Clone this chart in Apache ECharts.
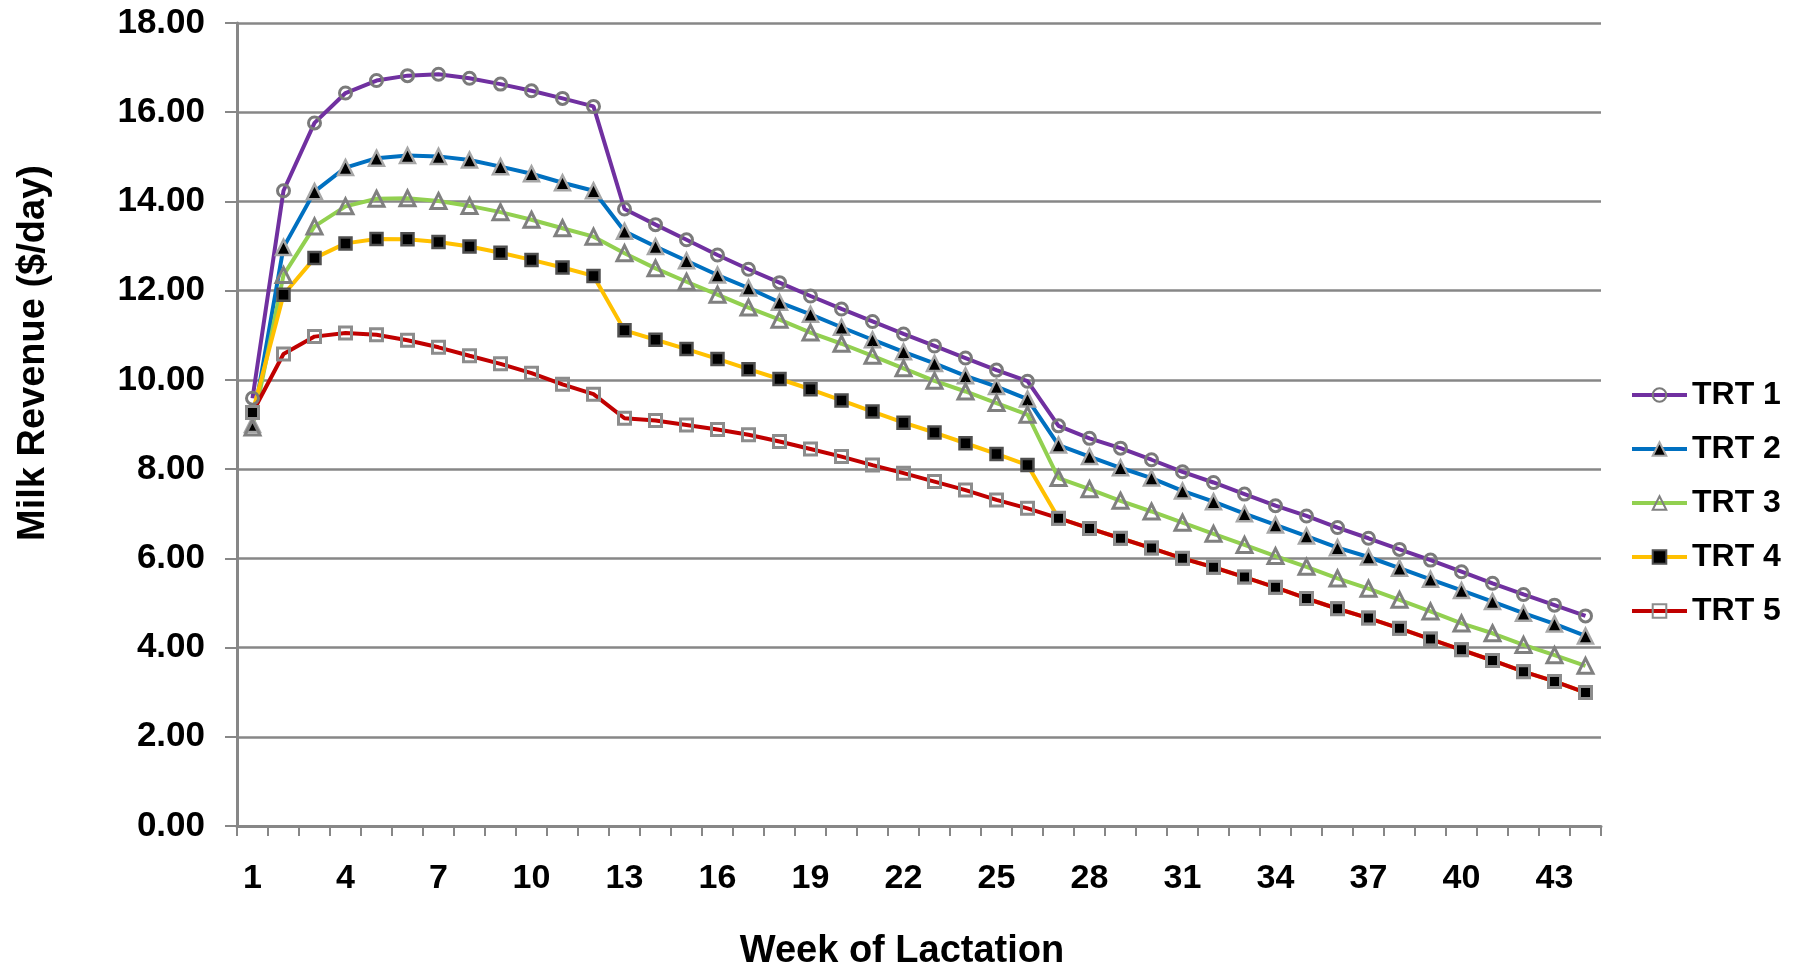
<!DOCTYPE html>
<html>
<head>
<meta charset="utf-8">
<script src="https://cdn.jsdelivr.net/npm/echarts@6/dist/echarts.min.js"></script>
<style>
  html, body { margin: 0; padding: 0; background: #ffffff; }
  #chart { width: 1797px; height: 971px; }
</style>
</head>
<body>
<div id="chart"></div>
<script>
// Week of lactation (category axis)
const weeks = ['1','2','3','4','5','6','7','8','9','10','11','12','13','14','15','16','17','18','19','20','21','22',
               '23','24','25','26','27','28','29','30','31','32','33','34','35','36','37','38','39','40','41','42','43','44'];

// Milk revenue ($/day) per treatment
const trt1 = [9.59, 14.24, 15.76, 16.43, 16.71, 16.82, 16.85, 16.76, 16.63, 16.48, 16.31, 16.13,
              13.83, 13.48, 13.14, 12.80, 12.48, 12.18, 11.88, 11.59, 11.31, 11.03, 10.76, 10.49, 10.22, 9.97,
              8.97, 8.69, 8.47, 8.21, 7.94, 7.70, 7.44, 7.18, 6.95, 6.69, 6.45, 6.20, 5.96, 5.70, 5.44, 5.19, 4.95, 4.71];
const trt2 = [9.00, 12.97, 14.22, 14.76, 14.97, 15.03, 15.01, 14.93, 14.78, 14.62, 14.42, 14.24,
              13.33, 12.99, 12.67, 12.35, 12.06, 11.74, 11.47, 11.18, 10.90, 10.63, 10.37, 10.09, 9.85, 9.57,
              8.54, 8.28, 8.03, 7.80, 7.51, 7.27, 7.00, 6.75, 6.50, 6.24, 6.03, 5.78, 5.53, 5.28, 5.03, 4.77, 4.53, 4.26];
const trt3 = [8.93, 12.35, 13.44, 13.89, 14.06, 14.07, 14.01, 13.90, 13.76, 13.59, 13.40, 13.21,
              12.84, 12.50, 12.20, 11.91, 11.62, 11.35, 11.06, 10.81, 10.54, 10.26, 9.98, 9.74, 9.48, 9.22,
              7.80, 7.55, 7.29, 7.05, 6.80, 6.55, 6.30, 6.05, 5.81, 5.55, 5.32, 5.07, 4.81, 4.54, 4.32, 4.06, 3.83, 3.59];
const trt4 = [9.27, 11.91, 12.73, 13.06, 13.16, 13.15, 13.09, 12.99, 12.85, 12.69, 12.52, 12.33,
              11.11, 10.90, 10.69, 10.47, 10.24, 10.02, 9.79, 9.54, 9.29, 9.04, 8.82, 8.58, 8.34, 8.09,
              6.90, 6.67, 6.45, 6.23, 6.00, 5.80, 5.58, 5.35, 5.10, 4.87, 4.66, 4.43, 4.19, 3.95, 3.71, 3.46, 3.24, 2.99];
const trt5 = [9.27, 10.58, 10.97, 11.05, 11.01, 10.89, 10.73, 10.54, 10.36, 10.15, 9.90, 9.68,
              9.14, 9.09, 8.99, 8.89, 8.77, 8.62, 8.45, 8.28, 8.09, 7.91, 7.72, 7.53, 7.31, 7.12,
              6.90, 6.67, 6.45, 6.23, 6.00, 5.80, 5.58, 5.35, 5.10, 4.87, 4.66, 4.43, 4.19, 3.95, 3.71, 3.46, 3.24, 2.99];

const seriesNames = ['TRT 1', 'TRT 2', 'TRT 3', 'TRT 4', 'TRT 5'];

const FONT = "'Liberation Sans', Arial, sans-serif";
const GREY = '#878787';

function trtSeries(name, data, lineColor, symbol, size, fill, border, borderWidth) {
  return {
    name: name,
    type: 'line',
    data: data,
    symbol: symbol,
    symbolSize: size,
    showAllSymbol: true,
    smooth: false,
    lineStyle: { color: lineColor, width: 4 },
    itemStyle: { color: fill, borderColor: border, borderWidth: borderWidth },
    emphasis: { disabled: true }
  };
}

const chart = echarts.init(document.getElementById('chart'), null, { renderer: 'canvas' });

chart.setOption({
  animation: false,
  backgroundColor: '#ffffff',
  grid: { left: 237, right: 196, top: 23, bottom: 145, containLabel: false },
  xAxis: {
    type: 'category',
    data: weeks,
    boundaryGap: true,
    axisLine: { show: true, lineStyle: { color: GREY, width: 3 } },
    axisTick: { show: true, interval: 0, length: 10, lineStyle: { color: GREY, width: 2 } },
    axisLabel: {
      interval: 2,
      margin: 36,
      color: '#000000',
      fontFamily: FONT,
      fontWeight: 'bold',
      fontSize: 34
    },
    splitLine: { show: false }
  },
  yAxis: {
    type: 'value',
    min: 0,
    max: 18,
    interval: 2,
    axisLine: { show: true, lineStyle: { color: GREY, width: 3 } },
    axisTick: { show: true, length: 12, lineStyle: { color: GREY, width: 2 } },
    axisLabel: {
      margin: 32,
      color: '#000000',
      fontFamily: FONT,
      fontWeight: 'bold',
      fontSize: 35,
      formatter: function (v) { return v.toFixed(2); }
    },
    splitLine: { show: true, lineStyle: { color: GREY, width: 2.5 } }
  },
  legend: {
    orient: 'vertical',
    left: 1625,
    top: 373,
    itemWidth: 55,
    itemHeight: 17,
    itemGap: 20,
    data: seriesNames,
    lineStyle: { width: 4 },
    textStyle: { color: '#000000', fontFamily: FONT, fontWeight: 'bold', fontSize: 32, lineHeight: 34 }
  },
  graphic: [
    {
      type: 'text',
      x: 34,
      y: 353,
      rotation: Math.PI / 2,
      style: {
        text: 'Milk Revenue ($/day)',
        fill: '#000000',
        fontFamily: FONT,
        fontWeight: 'bold',
        fontSize: 38,
        align: 'center',
        verticalAlign: 'middle'
      }
    },
    {
      type: 'text',
      x: 902,
      y: 952,
      style: {
        text: 'Week of Lactation',
        fill: '#000000',
        fontFamily: FONT,
        fontWeight: 'bold',
        fontSize: 38,
        align: 'center',
        verticalAlign: 'middle'
      }
    }
  ],
  series: [
    trtSeries(seriesNames[0], trt1, '#7030A0', 'circle', 12, 'rgba(255,255,255,0)', '#7a7a7a', 3),
    trtSeries(seriesNames[1], trt2, '#0070C0', 'triangle', 15, '#000000', '#a6a6a6', 2.5),
    trtSeries(seriesNames[2], trt3, '#92D050', 'triangle', 15, 'rgba(255,255,255,0)', '#808080', 3),
    trtSeries(seriesNames[3], trt4, '#FFC000', 'rect', 12, '#000000', '#505050', 2.5),
    trtSeries(seriesNames[4], trt5, '#C00000', 'rect', 12, 'rgba(255,255,255,0)', '#8c8c8c', 3)
  ]
});
</script>
</body>
</html>
